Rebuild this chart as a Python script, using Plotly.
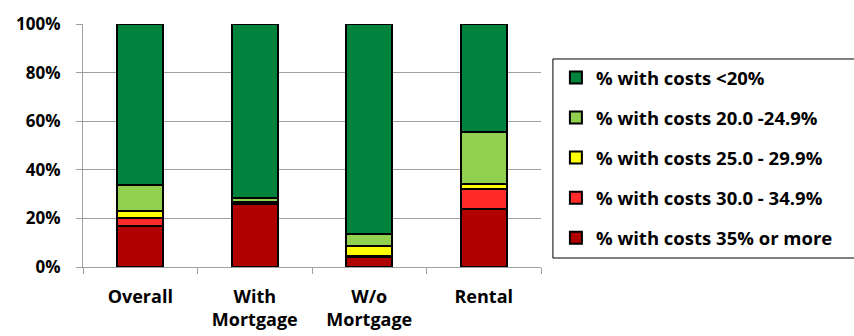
import plotly.graph_objects as go

categories = ["Overall", "With<br>Mortgage", "W/o<br>Mortgage", "Rental"]

series_names = [
    "% with costs 35% or more",
    "% with costs 30.0 - 34.9%",
    "% with costs 25.0 - 29.9%",
    "% with costs 20.0 -24.9%",
    "% with costs <20%",
]

share_35_plus = [17.0, 26.0, 4.1, 23.7]
share_30_35 = [3.2, 0.4, 0.4, 8.4]
share_25_30 = [2.7, 0.3, 4.0, 1.9]
share_20_25 = [11.0, 1.5, 5.0, 21.4]
share_under_20 = [66.1, 71.8, 86.5, 44.6]

series_values = [share_35_plus, share_30_35, share_25_30, share_20_25, share_under_20]
series_colors = ["#B00000", "#FF2A2A", "#FFFF00", "#92D050", "#00843D"]
legend_ranks = [5, 4, 3, 2, 1]

y_ticks = [0, 20, 40, 60, 80, 100]
y_tick_labels = ["0%", "20%", "40%", "60%", "80%", "100%"]

fig = go.Figure()
for name, vals, color, rank in zip(series_names, series_values, series_colors, legend_ranks):
    fig.add_trace(go.Bar(
        x=categories, y=vals, name=name, legendgroup=name, legendrank=rank,
        marker=dict(color=color, line=dict(color="black", width=2)),
    ))

# Legend frame that runs off the right edge of the canvas
fig.add_shape(
    type="rect", xref="paper", yref="paper",
    x0=1.026, x1=1.75, y0=0.037, y1=0.856,
    line=dict(color="black", width=1), fillcolor="white", layer="below",
)

font_family = "'Open Sans', sans-serif"
fig.update_layout(
    barmode="stack",
    bargap=0.6,
    width=854, height=336,
    margin=dict(l=83, r=313, t=24, b=69, autoexpand=False),
    paper_bgcolor="white", plot_bgcolor="white",
    font=dict(family=font_family, size=18, color="black", weight="bold"),
    legend=dict(
        x=1.026, y=0.856, xanchor="left", yanchor="top",
        traceorder="grouped", tracegroupgap=13, itemwidth=30,
        indentation=3, borderwidth=0, bgcolor="rgba(0,0,0,0)",
        font=dict(family=font_family, size=18.5, color="black", weight="bold"),
    ),
    xaxis=dict(
        showline=True, linecolor="#A0A0A0", linewidth=1,
        ticks="outside", ticklen=6, tickcolor="#A0A0A0", tickson="boundaries",
        tickfont=dict(size=18, weight="bold"), ticklabelstandoff=13,
        automargin=False,
    ),
    yaxis=dict(
        range=[0, 100], tickvals=y_ticks, ticktext=y_tick_labels,
        showline=True, linecolor="#A0A0A0", linewidth=1,
        showgrid=True, gridcolor="#A0A0A0", gridwidth=1,
        ticks="outside", ticklen=6, tickcolor="#A0A0A0",
        tickfont=dict(size=17, weight="bold"), zeroline=False,
        ticklabelstandoff=12, automargin=False,
    ),
)

fig.write_html("out.html")
